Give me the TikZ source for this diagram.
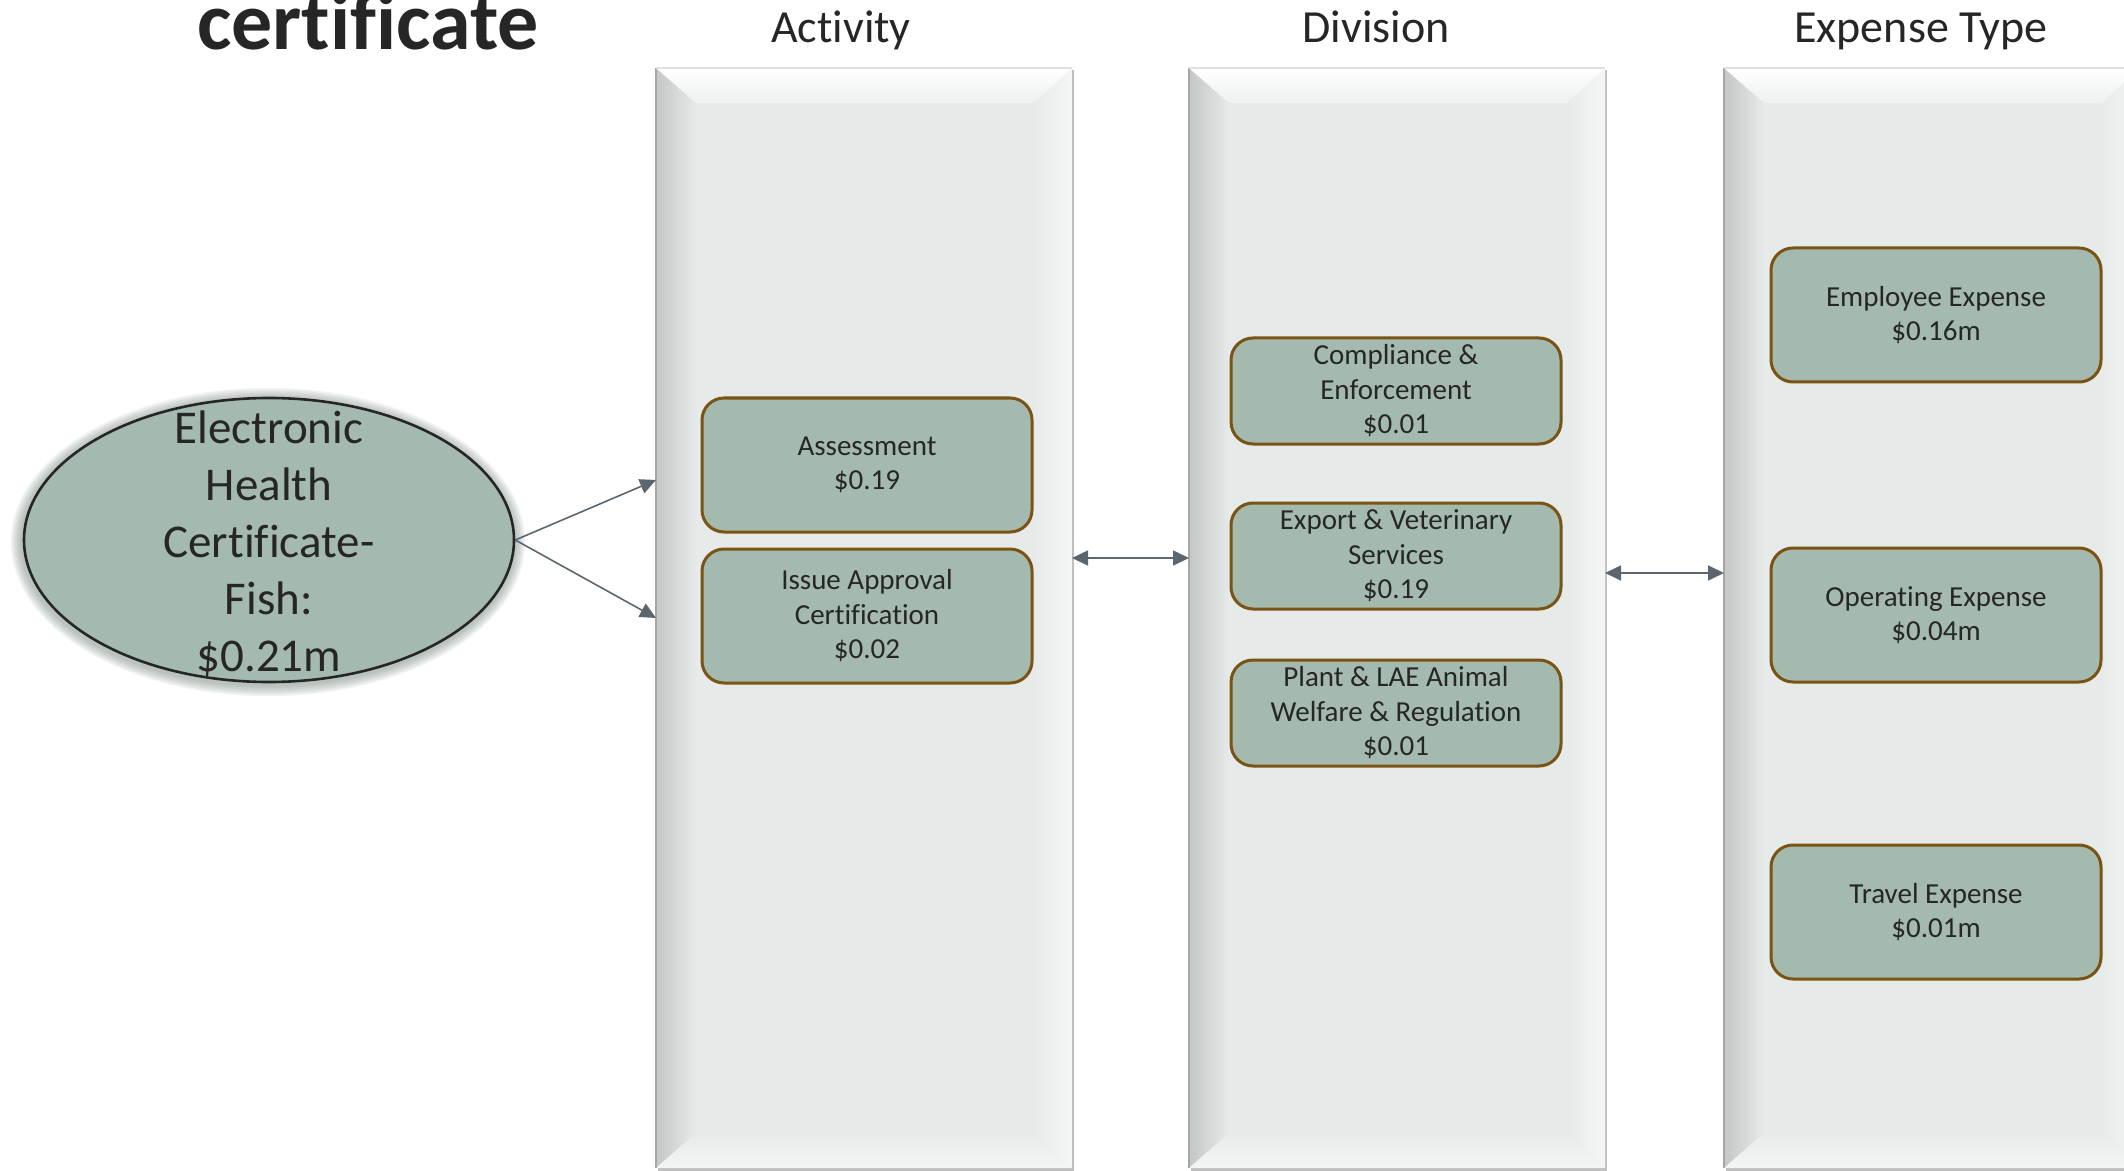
\documentclass[tikz,border=0pt]{standalone}
\usepackage{fontspec}
\setmainfont{Carlito}[Ligatures=NoCommon]
\usetikzlibrary{shapes.geometric,arrows.meta,calc}
\definecolor{boxfill}{HTML}{A5BAAE}
\definecolor{boxline}{HTML}{7A5414}
\definecolor{panelbg}{HTML}{E6EAE8}
\definecolor{paneldark}{HTML}{C3C8C6}
\definecolor{linkcol}{HTML}{5B666E}
\definecolor{textcol}{HTML}{262626}
\begin{document}
\begin{tikzpicture}[x=0.5pt,y=-0.5pt,
  panel/.style={fill=panelbg, inner sep=0pt, outer sep=0pt, minimum width=208pt, minimum height=550pt},
  costbox/.style={rounded corners=11pt, fill=boxfill, draw=boxline, line width=1.5pt,
    minimum width=165pt, minimum height=67pt, inner sep=2pt, align=center,
    text=textcol, font=\fontsize{14.5}{17.25}\selectfont},
  divbox/.style={costbox, minimum height=53pt},
  header/.style={text=textcol, font=\fontsize{23}{27}\selectfont, anchor=base},
  link/.style={draw=linkcol, line width=0.8pt, -{Triangle[length=8pt,width=7.5pt]}},
  glow/.style={ellipse, fill=boxfill!75!black, opacity=0.1, inner sep=0pt}
]
\useasboundingbox (0,0) rectangle (2124,1171);
\clip (0,0) rectangle (2124,1171);
% Title and column headers
\node[text=textcol, font=\fontsize{41}{49}\selectfont\bfseries, anchor=base] (title) at (368,50) {certificate};
\node[header] (acthead) at (841,43) {Activity};
\node[header] (divhead) at (1376,43) {Division};
\node[header] (exphead) at (1921,43) {Expense Type};
% Bevelled panels
\foreach \px/\nm in {864/actpanel,1397/divpanel,1932/exppanel} {
  \fill[black!25] (\px-206,70) rectangle (\px+210,1172);
  \node[panel] (\nm) at (\px,618) {};
  \shade[left color=paneldark, right color=panelbg] (\nm.north west) -- ++(40,35)
    -- ($(\nm.south west)+(40,-35)$) -- (\nm.south west) -- cycle;
  \shade[left color=panelbg, right color=panelbg!40!white] (\nm.north east) -- ++(-38,35)
    -- ($(\nm.south east)+(-38,-35)$) -- (\nm.south east) -- cycle;
  \shade[top color=white, middle color=white, bottom color=panelbg!70!white] (\nm.north west)
    -- (\nm.north east) -- ++(-38,35) -- ($(\nm.north west)+(40,35)$) -- cycle;
  \shade[top color=panelbg, bottom color=panelbg!45!white] (\nm.south west)
    -- (\nm.south east) -- ++(-38,-35) -- ($(\nm.south west)+(40,-35)$) -- cycle;
  \draw[black!35, line width=0.6pt] (\nm.south west) -- (\nm.north west);
  \draw[black!12, line width=0.6pt] (\nm.north west) -- (\nm.north east);
}
% Certificate ellipse
\coordinate (certc) at (269,540);
\foreach \g in {1,...,7} {
  \node[glow, minimum width={246pt+\g*1.6pt}, minimum height={143pt+\g*1.6pt}] at ($(certc)+(-1,2)$) {};
}
\node[ellipse, fill=boxfill, draw=black!85, line width=1.3pt, inner sep=0pt,
  minimum width=245pt, minimum height=142pt] (cert) at (certc) {};
\node[text=textcol, font=\fontsize{23.5}{28.5}\selectfont, align=center] (certlabel) at (269,544)
  {Electronic\\Health\\Certificate-\\Fish:\\\$0.21m};
% Activity
\node[costbox] (assess) at (867,465) {Assessment\\\$0.19};
\node[costbox] (issue) at (867,616) {Issue Approval\\Certification\\\$0.02};
% Division
\node[divbox] (comply) at (1396,391) {Compliance \&\\Enforcement\\\$0.01};
\node[divbox] (export) at (1396,556) {Export \& Veterinary\\Services\\\$0.19};
\node[divbox] (plant) at (1396,713) {Plant \& LAE Animal\\Welfare \& Regulation\\\$0.01};
% Expense type
\node[costbox] (employee) at (1936,315) {Employee Expense\\\$0.16m};
\node[costbox] (operating) at (1936,615) {Operating Expense\\\$0.04m};
\node[costbox] (travel) at (1936,912) {Travel Expense\\\$0.01m};
% Connectors
\coordinate (actin) at (656,480);
\coordinate (actdiv) at (0,558);
\coordinate (divexp) at (0,573);
\draw[link] (cert.east) -- (actin);
\draw[link] (cert.east) -- (actpanel.west);
\draw[link, {Triangle[length=8pt,width=7.5pt]}-{Triangle[length=8pt,width=7.5pt]}] (actpanel.east |- actdiv) -- (divpanel.west |- actdiv);
\draw[link, {Triangle[length=8pt,width=7.5pt]}-{Triangle[length=8pt,width=7.5pt]}] (divpanel.east |- divexp) -- (exppanel.west |- divexp);
\end{tikzpicture}
\end{document}
